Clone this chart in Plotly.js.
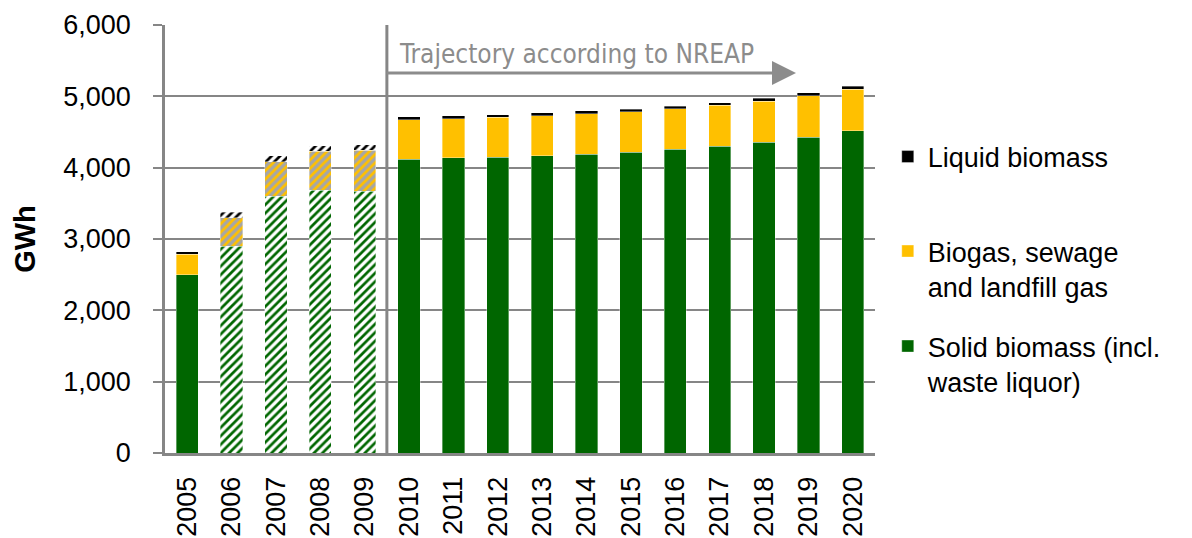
<!DOCTYPE html>
<html>
<head>
<meta charset="utf-8">
<script src="https://cdn.plot.ly/plotly-3.0.1.min.js"></script>
<style>
html,body{margin:0;padding:0;background:#fff;}
#chart{width:1192px;height:538px;}
</style>
</head>
<body>
<div id="chart"></div>
<script>
const years = ['2005','2006','2007','2008','2009','2010','2011','2012','2013','2014','2015','2016','2017','2018','2019','2020'];
const solidBiomass = [2500, 2900, 3600, 3685, 3670, 4120, 4136, 4148, 4169, 4190, 4215, 4256, 4300, 4357, 4428, 4520];
const biogas = [285, 395, 480, 548, 573, 553, 553, 557, 562, 567, 568, 570, 572, 577, 580, 580];
const liquidBiomass = [35, 80, 85, 71, 75, 38, 38, 38, 36, 38, 38, 38, 40, 38, 42, 42];
const hatched = [false, true, true, true, true, false, false, false, false, false, false, false, false, false, false, false];
const seriesNames = ['Solid biomass (incl.<br>waste liquor)', 'Biogas, sewage<br>and landfill gas', 'Liquid biomass'];
const yTicks = [0, 1000, 2000, 3000, 4000, 5000, 6000];
const annotationText = 'Trajectory according to NREAP';

const GREEN = '#006600', YELLOW = '#FFC000', BLACK = '#000000';
const GRID = '#868686';
const FONT = 'Liberation Sans, Arial, sans-serif';

function pattern(fg, bg) {
  return {
    shape: hatched.map(h => h ? '/' : ''),
    fgcolor: hatched.map(() => fg),
    bgcolor: hatched.map(h => h ? bg : 'rgba(0,0,0,0)'),
    size: 6,
    solidity: 0.45,
    fillmode: 'replace'
  };
}

function barTrace(name, vals, color, fg, bg, legendId) {
  return {
    type: 'bar', x: years, y: vals, name: name,
    legend: legendId,
    marker: {
      color: color,
      pattern: pattern(fg, bg),
      line: {color: 'rgba(255,255,255,0.45)', width: 0.8}
    },
    hoverinfo: 'x+y+name'
  };
}

const traces = [
  barTrace(seriesNames[0], solidBiomass, GREEN, GREEN, '#ffffff', 'legend3'),
  barTrace(seriesNames[1], biogas, YELLOW, YELLOW, '#A6A6A6', 'legend2'),
  barTrace(seriesNames[2], liquidBiomass, BLACK, BLACK, '#ffffff', 'legend')
];

const legendBase = {
  font: {family: FONT, size: 27, color: '#000'},
  bgcolor: 'rgba(0,0,0,0)', borderwidth: 0,
  xanchor: 'left', yanchor: 'middle', valign: 'top',
  itemclick: false, itemdoubleclick: false
};

const layout = {
  width: 1192, height: 538,
  margin: {l: 165, r: 317, t: 25, b: 85},
  paper_bgcolor: '#fff', plot_bgcolor: '#fff',
  barmode: 'stack', bargap: 0.5,
  font: {family: FONT, size: 27, color: '#000'},
  showlegend: true,
  legend: Object.assign({}, legendBase, {x: 1.018, y: (453 - 157) / 428}),
  legend2: Object.assign({}, legendBase, {x: 1.018, y: (453 - 269) / 428}),
  legend3: Object.assign({}, legendBase, {x: 1.018, y: (453 - 364) / 428}),
  xaxis: {
    type: 'category', tickangle: -90,
    showgrid: false, showline: true, linecolor: GRID, linewidth: 3,
    ticks: '', ticklabelstandoff: 10,
    tickfont: {family: FONT, size: 27, color: '#000'},
    fixedrange: true
  },
  yaxis: {
    range: [0, 6000], tickvals: yTicks,
    ticktext: yTicks.map(v => v.toLocaleString('en-US')),
    showgrid: true, gridcolor: GRID, gridwidth: 2,
    showline: true, linecolor: GRID, linewidth: 2.5,
    ticks: 'outside', ticklen: 9, tickwidth: 2, tickcolor: GRID,
    ticklabelstandoff: 17,
    zeroline: false,
    tickfont: {family: FONT, size: 27, color: '#000'},
    title: {text: '<b>GWh</b>', font: {family: FONT, size: 29, color: '#000'}, standoff: 20},
    automargin: false,
    fixedrange: true
  },
  shapes: [
    {type: 'line', xref: 'x', yref: 'paper', x0: 4.5, x1: 4.5, y0: 0, y1: 1,
     line: {color: GRID, width: 3}}
  ],
  annotations: [
    {xref: 'x', yref: 'y', axref: 'x', ayref: 'y',
     x: 13.72, y: 5327, ax: 4.46, ay: 5327,
     showarrow: true, arrowhead: 2, arrowsize: 1.6, arrowwidth: 3, arrowcolor: '#8C8C8C', text: ''},
    {xref: 'x', yref: 'y', x: 4.73, y: 5600, xanchor: 'left', yanchor: 'middle',
     text: annotationText, showarrow: false,
     font: {family: 'Liberation Sans Narrow, Arial Narrow, DejaVu Sans Condensed, sans-serif', size: 26, color: '#8C8C8C'}}
  ]
};

Plotly.newPlot('chart', traces, layout, {displayModeBar: false});
</script>
</body>
</html>
